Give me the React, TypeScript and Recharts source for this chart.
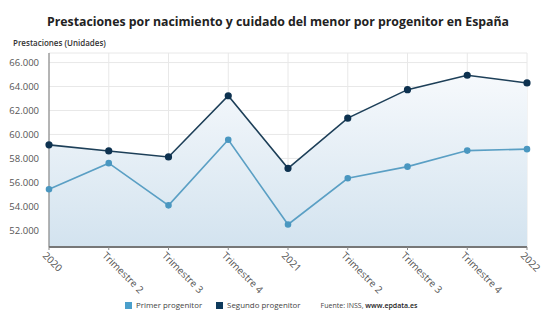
import React from 'react';
import { ComposedChart, Area, Line, XAxis, YAxis, CartesianGrid } from 'recharts';

const categories = ['2020', 'Trimestre 2', 'Trimestre 3', 'Trimestre 4', '2021', 'Trimestre 2', 'Trimestre 3', 'Trimestre 4', '2022'];
const primer = [55420, 57600, 54080, 59550, 52480, 56340, 57310, 58650, 58770];
const segundo = [59130, 58620, 58120, 63230, 57170, 61360, 63740, 64940, 64300];
const yTicks = [52000, 54000, 56000, 58000, 60000, 62000, 64000, 66000];

const data = categories.map((c, i) => ({ idx: i, cat: c, primer: primer[i], segundo: segundo[i] }));

const FONT = '"Open Sans", "Noto Sans", sans-serif';
const fmt = (v: number) => v.toLocaleString('de-DE');

const XTick = (props: any) => {
  const { x, y, payload } = props;
  return (
    <g transform={`translate(${x},${y})`}>
      <text x={0} y={0} dy={8} dx={-2} transform="rotate(45)" textAnchor="start" fill="#555" fontSize={10} fontFamily={FONT}>
        {categories[payload.value]}
      </text>
    </g>
  );
};

export default function App() {
  return (
    <div style={{ position: 'absolute', left: 0, top: 0, width: 556, height: 326, background: '#fff', fontFamily: FONT }}>
      <div style={{ position: 'absolute', left: 0, top: 13, width: 556, textAlign: 'center', fontSize: 12.3, fontWeight: 700, color: '#222' }}>
        Prestaciones por nacimiento y cuidado del menor por progenitor en España
      </div>
      <div style={{ position: 'absolute', left: 13, top: 37, fontSize: 8, fontWeight: 600, color: '#333' }}>Prestaciones (Unidades)</div>
      <ComposedChart width={556} height={326} data={data} margin={{ top: 53, right: 29, bottom: 0, left: 0 }}>
        <defs>
          <linearGradient id="fillG" x1="0" y1="0" x2="0" y2="1">
            <stop offset="0%" stopColor="#f6f9fc" />
            <stop offset="100%" stopColor="#d3e3ef" />
          </linearGradient>
        </defs>
        <CartesianGrid stroke="#e8e8e8" />
        <XAxis dataKey="idx" type="number" domain={[0, 8]} ticks={[0, 1, 2, 3, 4, 5, 6, 7, 8]} height={79}
          tick={<XTick />} tickLine={{ stroke: '#888' }} tickSize={3} axisLine={{ stroke: '#777', strokeWidth: 2 }} interval={0} />
        <YAxis domain={[50600, 66800]} ticks={yTicks} width={49} tickFormatter={fmt} allowDataOverflow
          tick={{ fill: '#555', fontSize: 9.5, fontFamily: FONT }} tickLine={false} axisLine={{ stroke: '#777' }} tickMargin={4} />
        <Area dataKey="segundo" type="linear" stroke="none" fill="url(#fillG)" fillOpacity={1} isAnimationActive={false} dot={false} activeDot={false} baseValue={50600} />
        <Line dataKey="primer" type="linear" stroke="#5a9fc4" strokeWidth={1.6} dot={{ r: 2.5, fill: '#4a97c0', stroke: '#4a97c0' }} isAnimationActive={false} />
        <Line dataKey="segundo" type="linear" stroke="#1d3f58" strokeWidth={1.6} dot={{ r: 2.8, fill: '#0e3250', stroke: '#0e3250' }} isAnimationActive={false} />
      </ComposedChart>
      <div style={{ position: 'absolute', top: 300, left: 125, display: 'flex', alignItems: 'center', fontSize: 7.9, color: '#444', whiteSpace: 'nowrap' }}>
        <span style={{ width: 7, height: 7, background: '#4a9fcb', display: 'inline-block', marginRight: 4 }} />
        <span style={{ marginRight: 14 }}>Primer progenitor</span>
        <span style={{ width: 7, height: 7, background: '#0e3a5c', display: 'inline-block', marginRight: 4 }} />
        <span style={{ marginRight: 20 }}>Segundo progenitor</span>
        <span style={{ fontSize: 7 }}>Fuente: INSS, <b style={{ color: '#222', fontWeight: 600 }}>www.epdata.es</b></span>
      </div>
    </div>
  );
}
